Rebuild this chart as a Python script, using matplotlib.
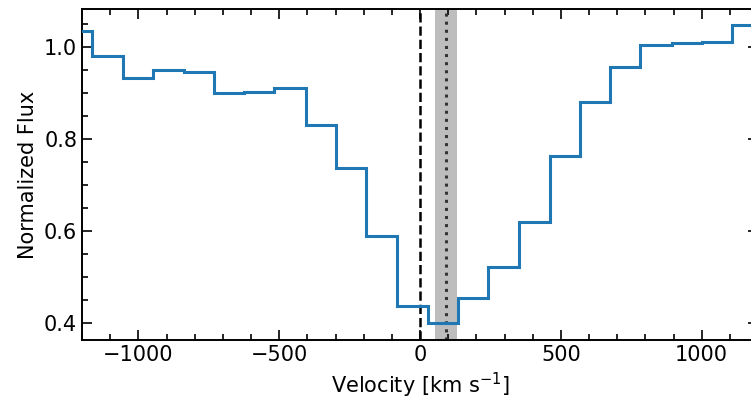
import matplotlib
matplotlib.use("Agg")
import matplotlib.pyplot as plt
from matplotlib.ticker import MultipleLocator

# bin edges (km/s) and normalized flux per bin
edges = [-1272, -1164, -1055, -948, -839, -730, -626, -517, -405, -299, -191,
         -83, 27, 136, 242, 351, 461, 567, 676, 782, 895, 1002, 1109, 1218]
flux = [1.035, 0.980, 0.933, 0.951, 0.947, 0.901, 0.903, 0.911, 0.830, 0.737,
        0.590, 0.436, 0.399, 0.454, 0.521, 0.620, 0.763, 0.880, 0.956, 1.004,
        1.009, 1.012, 1.048]

v_sys = 0
v_line = 91
v_band = (53, 130)

fig = plt.figure(figsize=(7.51, 4.00), dpi=100)
ax = fig.add_axes([82/751, 60/400, (758-82)/751, 331/400])

ax.axvspan(v_band[0], v_band[1], color='#bdbdbd', lw=0, zorder=1)
ax.stairs(flux, edges, color='#1f77b4', lw=2.2, zorder=3)
ax.axvline(v_sys, color='k', ls='--', lw=1.8, zorder=2)
ax.axvline(v_line, color='#333333', ls=':', lw=2.2, zorder=2)

ax.set_xlim(-1200, 1200)
ax.set_ylim(0.363, 1.083)
ax.xaxis.set_major_locator(MultipleLocator(500))
ax.xaxis.set_minor_locator(MultipleLocator(100))
ax.yaxis.set_major_locator(MultipleLocator(0.2))
ax.yaxis.set_minor_locator(MultipleLocator(0.05))
ax.tick_params(which='both', direction='in', top=True, right=True, labelsize=15, width=1.2)
ax.tick_params(which='major', length=7)
ax.tick_params(which='minor', length=4)
for s in ax.spines.values():
    s.set_linewidth(1.4)

ax.set_xlabel(r'Velocity [km s$^{-1}$]', fontsize=15)
ax.set_ylabel('Normalized Flux', fontsize=15)

fig.savefig('out.png', dpi=100)
